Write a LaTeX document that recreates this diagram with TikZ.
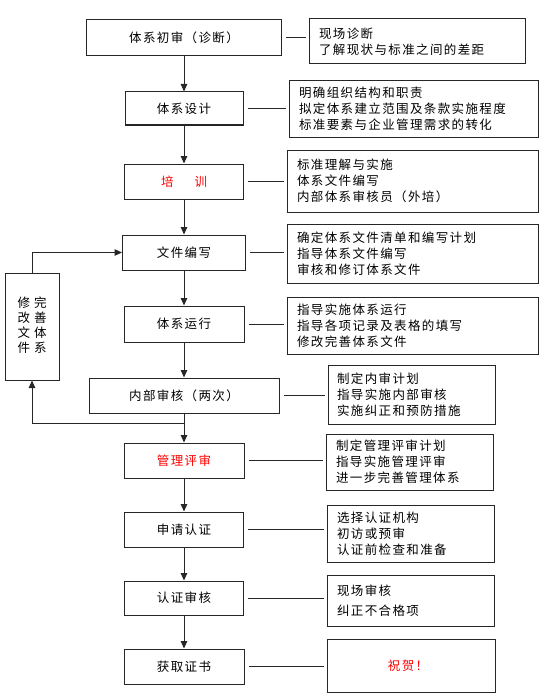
\documentclass[tikz,border=0pt]{standalone}
\usepackage{fontspec}
\newfontfamily\cjk{Noto Sans CJK SC}[LetterSpace=11]
\usetikzlibrary{arrows.meta}
\definecolor{ln}{HTML}{262626}
\definecolor{hot}{HTML}{FF0000}
\tikzset{
  mbox/.style={draw=ln, line width=1pt, rectangle, inner sep=0pt, align=center,
    font={\cjk\fontsize{12.5}{16}\selectfont}},
  rbox/.style={draw=ln, line width=1pt, rectangle, inner xsep=10pt, inner ysep=0pt, align=left,
    font={\cjk\fontsize{12.5}{16}\selectfont}},
  arr/.style={draw=ln, line width=1pt, -{Triangle[width=6.5pt,length=7.5pt]}},
  conn/.style={draw=ln, line width=1pt, shorten >=3pt, shorten <=4pt},
}
\begin{document}
\begin{tikzpicture}[x=1pt,y=-1pt]
\useasboundingbox (0,0) rectangle (544,698);
% main column
\node[mbox, minimum width=195pt, minimum height=36pt] (b1) at (184,38) {体系初审（诊断）};
\node[mbox, minimum width=118pt, minimum height=33pt] (b2) at (184,108.5) {体系设计};
\node[mbox, minimum width=119pt, minimum height=35pt, text=hot] (b3) at (184,181.5) {培\hspace{21pt}训};
\node[mbox, minimum width=123pt, minimum height=35pt] (b4) at (184,252.5) {文件编写};
\node[mbox, minimum width=120pt, minimum height=36pt] (b5) at (184,324) {体系运行};
\node[mbox, minimum width=190pt, minimum height=35pt] (b6) at (184,395.5) {内部审核（两次）};
\node[mbox, minimum width=120pt, minimum height=35pt, text=hot] (b7) at (184,460.5) {管理评审};
\node[mbox, minimum width=119pt, minimum height=35pt] (b8) at (184,529.5) {申请认证};
\node[mbox, minimum width=119pt, minimum height=34pt] (b9) at (184,598) {认证审核};
\node[mbox, minimum width=120pt, minimum height=35pt] (b10) at (184,666.5) {获取证书};
% right column
\node[rbox, minimum width=216pt, minimum height=45pt, text width=196pt] (r1) at (417,41.5) {现场诊断\\了解现状与标准之间的差距};
\node[rbox, minimum width=249pt, minimum height=56pt, text width=229pt] (r2) at (413.5,109) {明确组织结构和职责\\拟定体系建立范围及条款实施程度\\标准要素与企业管理需求的转化};
\node[rbox, minimum width=251pt, minimum height=62pt, text width=231pt] (r3) at (412.5,181) {标准理解与实施\\体系文件编写\\内部体系审核员（外培）};
\node[rbox, minimum width=251pt, minimum height=59pt, text width=231pt] (r4) at (412.5,253.5) {确定体系文件清单和编写计划\\指导体系文件编写\\审核和修订体系文件};
\node[rbox, minimum width=251pt, minimum height=57pt, text width=231pt] (r5) at (412.5,325.5) {指导实施体系运行\\指导各项记录及表格的填写\\修改完善体系文件};
\node[rbox, minimum width=167pt, minimum height=59pt, text width=149pt, inner xsep=9pt] (r6) at (411.5,394.5) {制定内审计划\\指导实施内部审核\\实施纠正和预防措施};
\node[rbox, minimum width=167pt, minimum height=56pt, text width=147pt] (r7) at (409.5,462) {制定管理评审计划\\指导实施管理评审\\进一步完善管理体系};
\node[rbox, minimum width=167pt, minimum height=57pt, text width=147pt] (r8) at (410.5,533.5) {选择认证机构\\初访或预审\\认证前检查和准备};
\node[rbox, minimum width=167pt, minimum height=51pt, text width=147pt, font={\cjk\fontsize{12.5}{20}\selectfont}] (r9) at (410.5,600.5) {现场审核\\纠正不合格项};
\node[mbox, minimum width=168pt, minimum height=53pt, text=hot] (r10) at (411,665.5) {\hspace{-6pt}祝贺！};
% side box
\node[mbox, minimum width=54pt, minimum height=107pt, font={\cjk\fontsize{12.5}{15}\selectfont}] (s) at (32,326.5)
  {\begin{tabular}{@{}c@{\hspace{4pt}}c@{}}修&完\\改&善\\文&体\\件&系\end{tabular}};
% main arrows
\draw[arr] (b1) -- (b2);
\draw[arr] (b2) -- (b3);
\draw[arr] (b3) -- (b4);
\draw[arr] (b4) -- (b5);
\draw[arr] (b5) -- (b6);
\draw[arr] (b6) -- (b7);
\draw[arr] (b7) -- (b8);
\draw[arr] (b8) -- (b9);
\draw[arr] (b9) -- (b10);
% connectors
\foreach \i in {1,...,10} {\draw[conn] (b\i.east) -- (b\i.east -| r\i.west);}
% feedback
\coordinate (fb) at (184,423);
\draw[arr] (fb) -- (fb -| s.south) -- (s.south);
\draw[arr] (s.north) |- (b4.west);
\end{tikzpicture}
\end{document}
